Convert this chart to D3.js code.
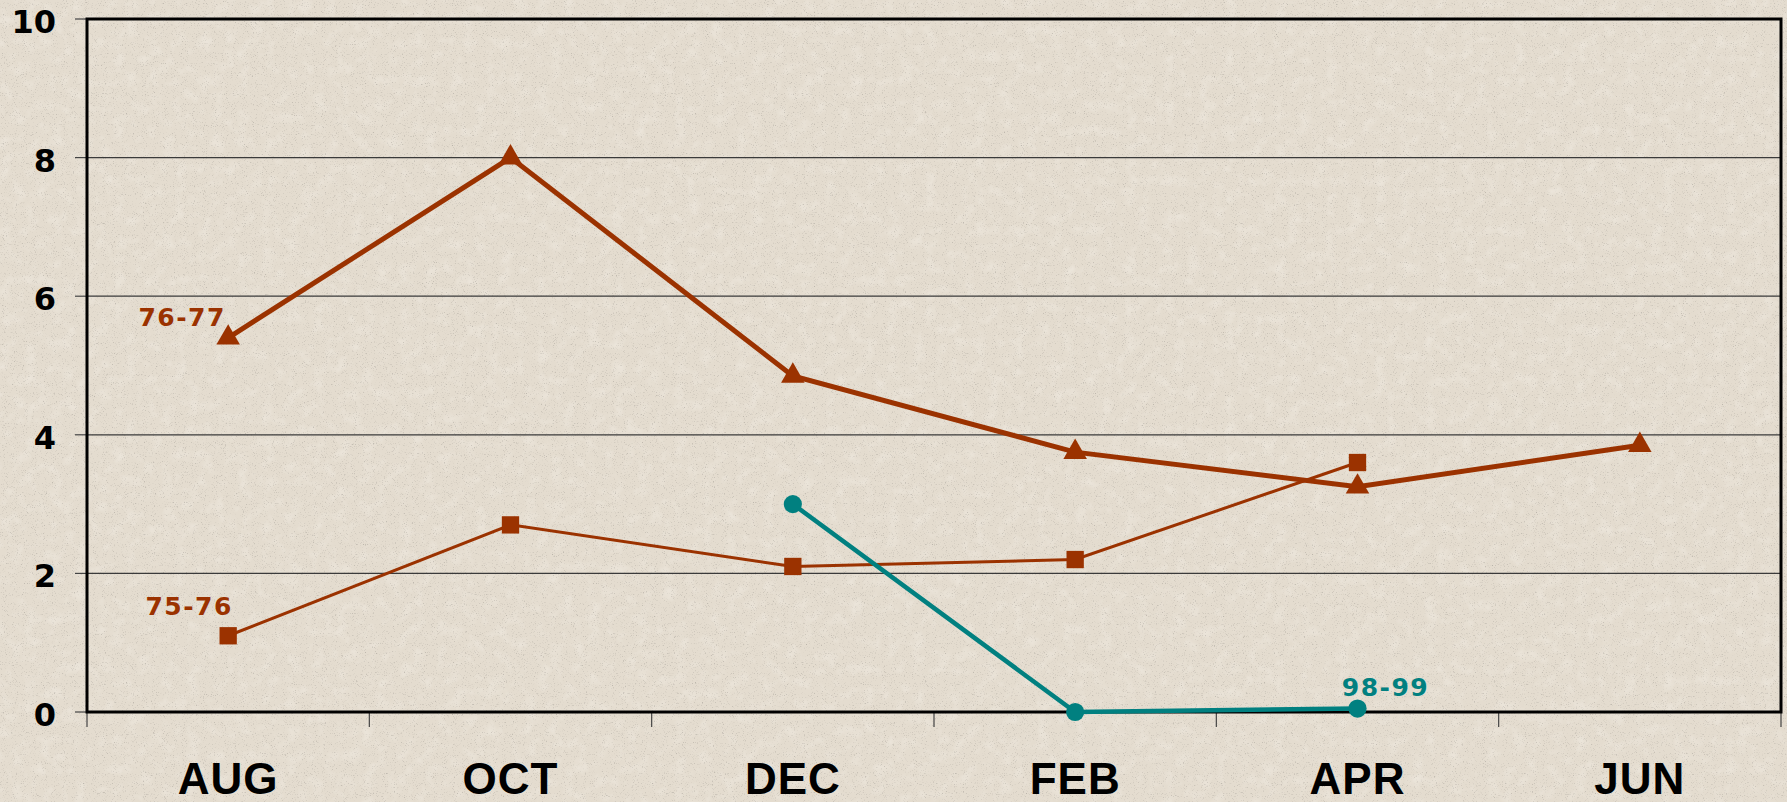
<!DOCTYPE html>
<html>
<head>
<meta charset="utf-8">
<script src="https://cdn.jsdelivr.net/npm/d3@7/dist/d3.min.js"></script>
<style>
  html, body { margin: 0; padding: 0; background: #E4DCCF; }
  svg { display: block; }
</style>
</head>
<body>
<svg id="chart" width="1787" height="802"></svg>
<script>
// Seasonal readings by month, one array per season
const months = ["AUG", "OCT", "DEC", "FEB", "APR", "JUN"];
const season7677 = [5.4, 8.0, 4.85, 3.75, 3.25, 3.85];
const season7576 = [1.1, 2.7, 2.1, 2.2, 3.6, null];
const season9899 = [null, null, 3.0, 0, 0.05, null];
const yTicks = [0, 2, 4, 6, 8, 10];
const seriesNames = ["76-77", "75-76", "98-99"];

const W = 1787, H = 802;
const margin = { left: 87, right: 6, top: 19, bottom: 90 };
const brown = "#9B3200";
const teal = "#018080";

const svg = d3.select("#chart");

// Grainy paper background
const defs = svg.append("defs");
const grain = defs.append("filter").attr("id", "grain")
  .attr("x", 0).attr("y", 0).attr("width", "100%").attr("height", "100%");
grain.append("feTurbulence").attr("type", "fractalNoise")
  .attr("baseFrequency", 0.9).attr("numOctaves", 2).attr("seed", 7);
grain.append("feColorMatrix").attr("type", "matrix")
  .attr("values", "0 0 0 0 0.30  0 0 0 0 0.28  0 0 0 0 0.25  1.6 0 0 0 -0.95");
const grain2 = defs.append("filter").attr("id", "grain2")
  .attr("x", 0).attr("y", 0).attr("width", "100%").attr("height", "100%");
grain2.append("feTurbulence").attr("type", "fractalNoise")
  .attr("baseFrequency", 0.08).attr("numOctaves", 3).attr("seed", 2);
grain2.append("feColorMatrix").attr("type", "matrix")
  .attr("values", "0 0 0 0 1  0 0 0 0 0.98  0 0 0 0 0.94  0.6 0 0 0 -0.28");

svg.append("rect").attr("width", W).attr("height", H).attr("fill", "#E4DCCF");
svg.append("rect").attr("width", W).attr("height", H).attr("filter", "url(#grain2)");
svg.append("rect").attr("width", W).attr("height", H).attr("filter", "url(#grain)");

const x = d3.scaleBand().domain(months).range([margin.left, W - margin.right]).padding(0);
const y = d3.scaleLinear().domain([0, 10]).range([H - margin.bottom, margin.top]);
const cx = m => x(m) + x.bandwidth() / 2;

const x0 = margin.left, x1 = W - margin.right;
const y0 = y(0), y1 = y(10);

// Horizontal gridlines
svg.append("g").selectAll("line").data(yTicks.filter(t => t > 0 && t < 10)).join("line")
  .attr("x1", x0).attr("x2", x1)
  .attr("y1", d => y(d)).attr("y2", d => y(d))
  .attr("stroke", "#3a3a3a").attr("stroke-width", 1.2);

// Y axis ticks and labels
const yAxis = svg.append("g");
yAxis.selectAll("line").data(yTicks).join("line")
  .attr("x1", x0 - 12).attr("x2", x0)
  .attr("y1", d => y(d)).attr("y2", d => y(d))
  .attr("stroke", "#444").attr("stroke-width", 1.2);
yAxis.selectAll("text").data(yTicks).join("text")
  .attr("x", 56).attr("y", d => y(d) + 14)
  .attr("text-anchor", "end")
  .attr("font-family", "'DejaVu Sans', sans-serif")
  .attr("font-weight", "bold").attr("font-size", 32)
  .attr("fill", "#000").text(d => d);

// X axis ticks at band boundaries and month labels
const bounds = months.map(m => x(m)).concat([x1]);
svg.append("g").selectAll("line").data(bounds).join("line")
  .attr("x1", d => d).attr("x2", d => d)
  .attr("y1", y0).attr("y2", y0 + 15)
  .attr("stroke", "#444").attr("stroke-width", 1.2);
svg.append("g").selectAll("text").data(months).join("text")
  .attr("x", d => cx(d)).attr("y", 794)
  .attr("text-anchor", "middle")
  .attr("font-family", "'Liberation Sans', Arial, sans-serif")
  .attr("font-weight", "bold").attr("font-size", 44)
  .attr("letter-spacing", 1)
  .attr("fill", "#000").text(d => d);

// Plot frame
svg.append("rect")
  .attr("x", x0).attr("y", y1).attr("width", x1 - x0).attr("height", y0 - y1)
  .attr("fill", "none").attr("stroke", "#000").attr("stroke-width", 3);

// Series
const series = [
  { name: seriesNames[1], values: season7576, color: brown, width: 3, symbol: d3.symbolSquare, size: 300 },
  { name: seriesNames[0], values: season7677, color: brown, width: 5, symbol: d3.symbolTriangle, size: 240 },
  { name: seriesNames[2], values: season9899, color: teal, width: 4.5, symbol: d3.symbolCircle, size: 260 }
];

const line = d3.line()
  .defined(d => d.v !== null)
  .x(d => cx(d.m)).y(d => y(d.v));

series.forEach(s => {
  const pts = months.map((m, i) => ({ m, v: s.values[i] }));
  svg.append("path").datum(pts)
    .attr("d", line)
    .attr("fill", "none").attr("stroke", s.color)
    .attr("stroke-width", s.width).attr("stroke-linejoin", "miter");
  svg.append("g").selectAll("path").data(pts.filter(d => d.v !== null)).join("path")
    .attr("d", d3.symbol().type(s.symbol).size(s.size))
    .attr("transform", d => `translate(${cx(d.m)},${y(d.v)})`)
    .attr("fill", s.color);
});

// Season labels next to a point of each line
const labels = [
  { text: seriesNames[0], m: "AUG", v: season7677[0], dx: -46, dy: -12, color: brown },
  { text: seriesNames[1], m: "AUG", v: season7576[0], dx: -39, dy: -21, color: brown },
  { text: seriesNames[2], m: "APR", v: season9899[4], dx: 28, dy: -13, color: teal }
];
svg.append("g").selectAll("text").data(labels).join("text")
  .attr("x", d => cx(d.m) + d.dx).attr("y", d => y(d.v) + d.dy)
  .attr("text-anchor", "middle")
  .attr("font-family", "'DejaVu Sans', sans-serif")
  .attr("font-weight", "bold").attr("font-size", 25)
  .attr("letter-spacing", 1.5)
  .attr("fill", d => d.color).text(d => d.text);
</script>
</body>
</html>
